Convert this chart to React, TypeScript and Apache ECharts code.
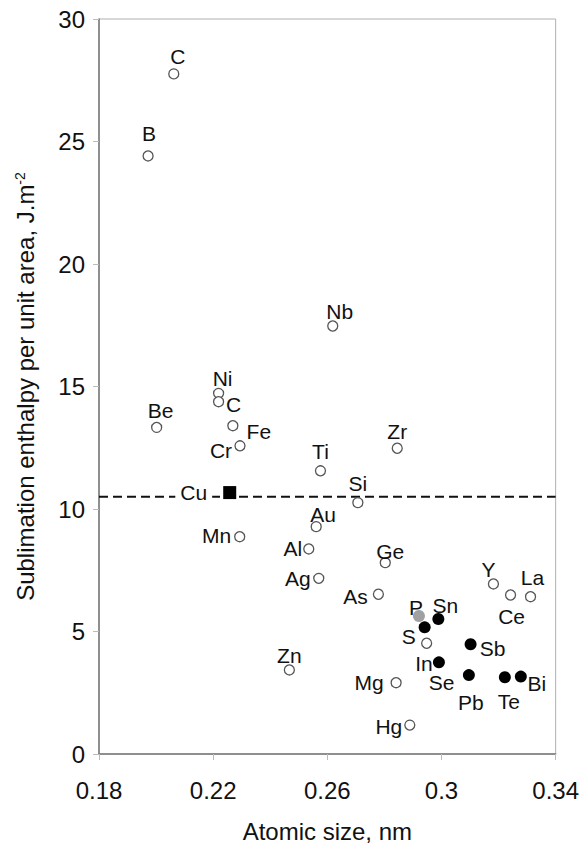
import React, { useEffect, useRef } from "react";
import * as echarts from "echarts";

// ---- data ----
const X_TICKS = [0.18, 0.22, 0.26, 0.3, 0.34];
const Y_TICKS = [0, 5, 10, 15, 20, 25, 30];
const CU_REFERENCE = 10.5;

// open circles
const openNames = ["C", "B", "Nb", "Ni", "C", "Fe", "Cr", "Be", "Ti", "Zr", "Si", "Au", "Mn", "Al", "Ge", "Ag", "As", "Y", "La", "Ce", "Se", "Mg", "Hg", "Zn"];
const openX = [0.2062, 0.1972, 0.2619, 0.2219, 0.2219, 0.2269, 0.2294, 0.2002, 0.2576, 0.2845, 0.2707, 0.2561, 0.2293, 0.2535, 0.2803, 0.257, 0.2779, 0.3182, 0.3312, 0.3242, 0.2948, 0.2841, 0.2889, 0.2467];
const openY = [27.76, 24.41, 17.47, 14.72, 14.38, 13.4, 12.58, 13.33, 11.56, 12.48, 10.26, 9.28, 8.87, 8.37, 7.81, 7.17, 6.52, 6.94, 6.42, 6.49, 4.52, 2.91, 1.18, 3.43];

// filled black circles
const filledNames = ["Sn", "S", "Sb", "In", "Pb", "Te", "Bi"];
const filledX = [0.2989, 0.2941, 0.3102, 0.2991, 0.3096, 0.3222, 0.3278];
const filledY = [5.51, 5.17, 4.48, 3.74, 3.22, 3.13, 3.16];

// grey circle
const greyNames = ["P"];
const greyX = [0.2921];
const greyY = [5.63];

// reference square
const squareNames = ["Cu"];
const squareX = [0.2258];
const squareY = [10.67];

// label placement (style): offset of the text centre from the marker, px
const openOffsets: number[][] = [
  [4, -17], [1, -22], [7, -14], [4, -15], [15, 3], [26, 6], [-19, 5], [4, -17],
  [0, -19], [0, -17], [0, -19], [7, -12], [-23, -1], [-16, 0], [5, -11], [-21, 0],
  [-23, 2], [-5, -14], [2, -19], [1, 22], [15, 39], [-27, 0], [-21, 1], [0, -14],
];
const filledOffsets: number[][] = [[7, -14], [-16, 9], [22, 4], [-15, 1], [2, 27], [4, 24], [16, 7]];
const greyOffsets: number[][] = [[-3, -9]];
const squareOffsets: number[][] = [[-36, 0]];

const FONT = "'Liberation Sans', Arial, Helvetica, sans-serif";

function build(names: string[], xs: number[], ys: number[], offs: number[][]) {
  return names.map((n, i) => ({
    name: n,
    value: [xs[i], ys[i]],
    label: { offset: offs[i] },
  }));
}

const labelBase = {
  show: true,
  position: "inside" as const,
  formatter: (p: any) => p.name,
  color: "#111",
  fontSize: 21,
  fontFamily: FONT,
};

export default function App() {
  const ref = useRef<HTMLDivElement>(null);
  useEffect(() => {
    if (!ref.current) return;
    const chart = echarts.init(ref.current, null, { renderer: "svg" });
    chart.setOption({
      animation: false,
      backgroundColor: "#fff",
      grid: {
        left: 99,
        right: 26,
        top: 19,
        bottom: 98,
        show: true,
        borderColor: "#b0b0b0",
        borderWidth: 1,
        backgroundColor: "transparent",
      },
      xAxis: {
        type: "value",
        min: X_TICKS[0],
        max: X_TICKS[X_TICKS.length - 1],
        name: "Atomic size, nm",
        nameLocation: "middle",
        nameGap: 65,
        nameTextStyle: { fontSize: 24, color: "#111", fontFamily: FONT },
        axisLine: { show: true, onZero: false, lineStyle: { color: "#777", width: 1.5 } },
        axisTick: { show: true, inside: false, length: 6, customValues: X_TICKS, lineStyle: { color: "#bbb" } },
        axisLabel: {
          customValues: X_TICKS,
          margin: 24,
          fontSize: 24,
          color: "#111",
          fontFamily: FONT,
          formatter: (v: number) => String(parseFloat(v.toFixed(2))),
        },
        splitLine: { show: false },
      },
      yAxis: {
        type: "value",
        min: Y_TICKS[0],
        max: Y_TICKS[Y_TICKS.length - 1],
        interval: 5,
        name: "Sublimation enthalpy per unit area, J.m{sup|-2}",
        nameLocation: "middle",
        nameGap: 62,
        nameTextStyle: {
          fontSize: 24,
          color: "#111",
          fontFamily: FONT,
          rich: { sup: { fontSize: 14, verticalAlign: "top", color: "#111", fontFamily: FONT, padding: [0, 0, 10, 0] } },
        },
        axisLine: { show: true, onZero: false, lineStyle: { color: "#777", width: 1.5 } },
        axisTick: { show: true, inside: false, length: 6, lineStyle: { color: "#bbb" } },
        axisLabel: { margin: 14, fontSize: 24, color: "#111", fontFamily: FONT },
        splitLine: { show: false },
      },
      series: [
        {
          type: "line",
          name: "reference",
          data: [
            [X_TICKS[0], CU_REFERENCE],
            [X_TICKS[X_TICKS.length - 1], CU_REFERENCE],
          ],
          showSymbol: false,
          symbol: "none",
          silent: true,
          lineStyle: { color: "#111", width: 2.2, type: [9, 5] },
          z: 1,
        },
        {
          type: "scatter",
          name: "open",
          symbol: "circle",
          symbolSize: 10,
          itemStyle: { color: "#fff", borderColor: "#555", borderWidth: 1.3, opacity: 1 },
          label: labelBase,
          data: build(openNames, openX, openY, openOffsets),
          z: 3,
        },
        {
          type: "scatter",
          name: "filled",
          symbol: "circle",
          symbolSize: 12,
          itemStyle: { color: "#000", opacity: 1 },
          label: labelBase,
          data: build(filledNames, filledX, filledY, filledOffsets),
          z: 3,
        },
        {
          type: "scatter",
          name: "grey",
          symbol: "circle",
          symbolSize: 12,
          itemStyle: { color: "#a0a0a0", opacity: 1 },
          label: labelBase,
          data: build(greyNames, greyX, greyY, greyOffsets),
          z: 3,
        },
        {
          type: "scatter",
          name: "square",
          symbol: "rect",
          symbolSize: 13,
          itemStyle: { color: "#000", opacity: 1 },
          label: { ...labelBase, backgroundColor: "#ffffff", padding: [2, 5] },
          data: build(squareNames, squareX, squareY, squareOffsets),
          z: 4,
        },
      ],
    });
    return () => chart.dispose();
  }, []);
  return (
    <div
      ref={ref}
      style={{ position: "absolute", left: 0, top: 0, width: 582, height: 852, background: "#fff" }}
    />
  );
}
